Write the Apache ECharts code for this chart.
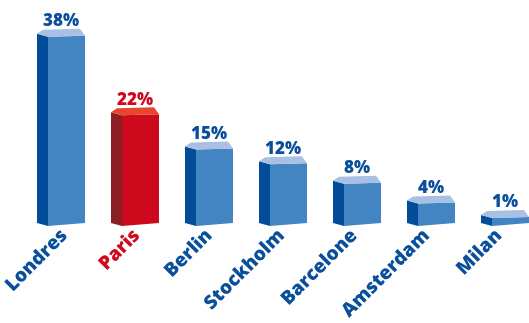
<!DOCTYPE html>
<html>
<head>
<meta charset="utf-8">
<script src="https://cdn.jsdelivr.net/npm/echarts@6/dist/echarts.min.js"></script>
<style>
  html, body { margin: 0; padding: 0; background: #ffffff; }
  #chart { width: 529px; height: 323px; }
</style>
</head>
<body>
<div id="chart"></div>
<script>
// Share of respondents per city
const cities = ['Londres', 'Paris', 'Berlin', 'Stockholm', 'Barcelone', 'Amsterdam', 'Milan'];
const shares = [38, 22, 15, 12, 8, 4, 1];
const highlightCity = 'Paris';

const BLUE_TEXT = '#0a4f9c';
const RED_TEXT = '#d0091e';
const blueFaces = { front: '#4384c3', side: '#034c99', top: '#a8c0e4' };
const redFaces = { front: '#cd0a1d', side: '#8a1f24', top: '#e8452f' };
const FONT = '"Open Sans", sans-serif';

const chart = echarts.init(document.getElementById('chart'), null, { renderer: 'canvas' });

// Draws one extruded bar: a front face, a darker left side and a lit top
function renderBar(params, api) {
  const idx = api.value(0);
  const val = api.value(1);
  const top = api.coord([idx, val]);
  const base = api.coord([idx, 0]);
  const c = top[0];
  const fy = top[1];
  const by = base[1];
  const fl = c - 13, fr = c + 24, d = 11;
  const faces = cities[idx] === highlightCity ? redFaces : blueFaces;
  const textColor = cities[idx] === highlightCity ? RED_TEXT : BLUE_TEXT;
  return {
    type: 'group',
    children: [
      { type: 'polygon', shape: { points: [[fl - d, fy - 3], [fl, fy], [fl, by + 3], [fl - d, by]] },
        style: { fill: faces.side } },
      { type: 'polygon', shape: { points: [[fl, fy], [fr, fy - 1], [fr, by], [fl, by + 3]] },
        style: { fill: faces.front } },
      { type: 'polygon', shape: { points: [[fl - d, fy - 3], [fl - d + 6, fy - 7], [fr - 5, fy - 8], [fr, fy - 1], [fl, fy]] },
        style: { fill: faces.top } },
      { type: 'text', x: c, y: fy - 7,
        style: { text: val + '%', fill: textColor, font: '800 17px ' + FONT,
                 align: 'center', verticalAlign: 'bottom' } }
    ]
  };
}

chart.setOption({
  animation: false,
  grid: [
    { left: 61, right: 24, top: 27, bottom: 100 },
    // city names sit a little left of the bar centres
    { left: 55, right: 30, top: 27, bottom: 100 }
  ],
  xAxis: [
    {
      type: 'category',
      gridIndex: 0,
      data: cities,
      boundaryGap: false,
      show: false
    },
    {
      type: 'category',
      gridIndex: 1,
      data: cities,
      boundaryGap: false,
      axisLine: { show: false },
      axisTick: { show: false },
      axisLabel: {
        rotate: 45,
        margin: 17,
        fontFamily: 'Open Sans',
        fontWeight: 800,
        fontSize: 19,
        color: function (v) { return v === highlightCity ? RED_TEXT : BLUE_TEXT; }
      }
    }
  ],
  yAxis: [
    { type: 'value', gridIndex: 0, min: 0, max: 40, show: false },
    { type: 'value', gridIndex: 1, min: 0, max: 40, show: false }
  ],
  series: [{
    type: 'custom',
    renderItem: renderBar,
    clip: false,
    xAxisIndex: 0,
    yAxisIndex: 0,
    data: shares.map(function (v, i) { return [i, v]; }),
    encode: { x: 0, y: 1 }
  }]
});
</script>
</body>
</html>
